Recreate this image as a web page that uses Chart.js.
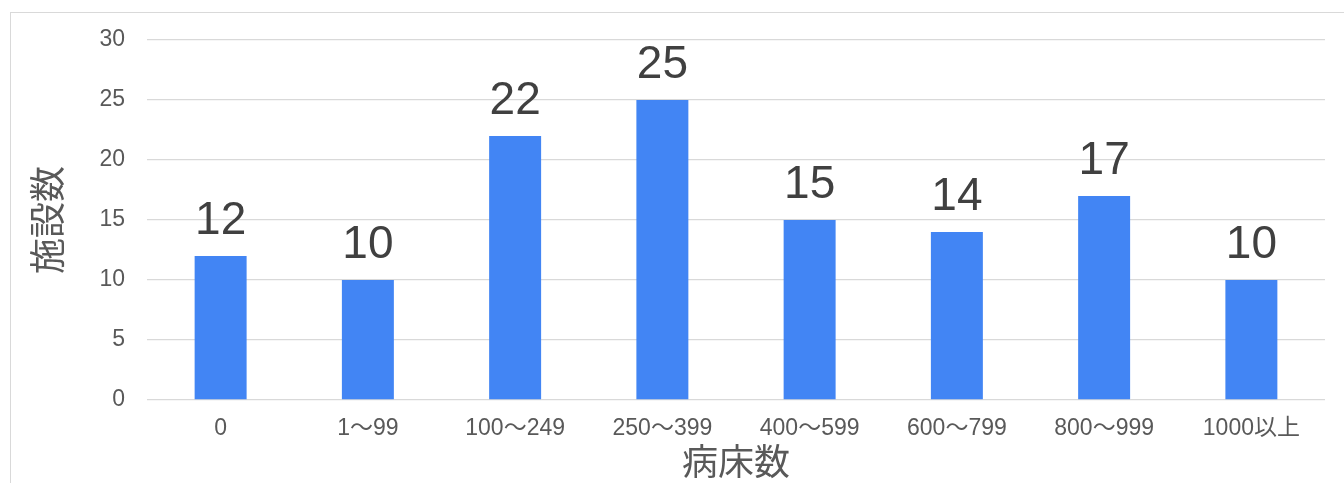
<!DOCTYPE html>
<html>
<head>
<meta charset="utf-8">
<script src="https://cdn.jsdelivr.net/npm/chart.js@4.4.1/dist/chart.umd.min.js"></script>
<style>
  html, body { margin: 0; padding: 0; background: #fff; overflow: hidden; }
  #frame { position: absolute; left: 10px; top: 12px; width: 1400px; height: 600px; border: 1.5px solid #d9d9d9; }
  #wrap { position: absolute; left: 0; top: 0; width: 1344px; height: 483px; }
</style>
</head>
<body>
<div id="frame"></div>
<div id="wrap"><canvas id="myChart" width="1344" height="483"></canvas></div>
<script>
const categorias = ['0', '1～99', '100～249', '250～399', '400～599', '600～799', '800～999', '1000以上'];
const valores = [12, 10, 22, 25, 15, 14, 17, 10];
const ticksY = [0, 5, 10, 15, 20, 25, 30];

const fuente = '"Liberation Sans", Arial, "Noto Sans CJK JP", sans-serif';
const fuenteCJK = '"Noto Sans CJK JP", "Liberation Sans", sans-serif';

// etiquetas de valor sobre cada barra
const etiquetasBarras = {
    id: 'etiquetasBarras',
    afterDatasetsDraw(chart) {
        const ctx = chart.ctx;
        const meta = chart.getDatasetMeta(0);
        ctx.save();
        ctx.fillStyle = '#404040';
        ctx.font = '46px ' + fuente;
        ctx.textAlign = 'center';
        ctx.textBaseline = 'alphabetic';
        meta.data.forEach((bar, i) => {
            ctx.fillText(String(valores[i]), bar.x, bar.y - 22);
        });
        ctx.restore();
    }
};

window.addEventListener('load', function() {
    const ctx = document.getElementById('myChart').getContext('2d');
    new Chart(ctx, {
        type: 'bar',
        data: {
            labels: categorias,
            datasets: [{
                data: valores,
                backgroundColor: '#4285F4',
                borderWidth: 0,
                categoryPercentage: 1,
                barPercentage: 0.353
            }]
        },
        options: {
            responsive: false,
            animation: false,
            layout: { padding: { top: 40, right: 19, left: 0, bottom: 0 } },
            plugins: {
                legend: { display: false },
                tooltip: { enabled: false }
            },
            scales: {
                y: {
                    min: 0,
                    max: 30,
                    afterBuildTicks: scale => { scale.ticks = ticksY.map(v => ({ value: v })); },
                    afterFit: scale => { scale.width = 147; },
                    border: { display: false },
                    grid: { color: '#d9d9d9', lineWidth: 1.3, drawTicks: false },
                    ticks: { color: '#595959', font: { family: fuente, size: 23 }, padding: 22 },
                    title: {
                        display: true,
                        text: '施設数',
                        color: '#595959',
                        font: { family: fuenteCJK, size: 36 },
                        padding: { top: 26, bottom: 0 }
                    }
                },
                x: {
                    afterFit: scale => { scale.height = 83; },
                    border: { display: false },
                    grid: { display: false, drawTicks: false },
                    ticks: { color: '#595959', font: { family: fuente, size: 23 }, padding: 15, autoSkip: false, maxRotation: 0 },
                    title: {
                        display: true,
                        text: '病床数',
                        color: '#595959',
                        font: { family: fuenteCJK, size: 36 },
                        padding: { top: 0, bottom: 0 }
                    }
                }
            }
        },
        plugins: [etiquetasBarras]
    });
});
</script>
</body>
</html>
